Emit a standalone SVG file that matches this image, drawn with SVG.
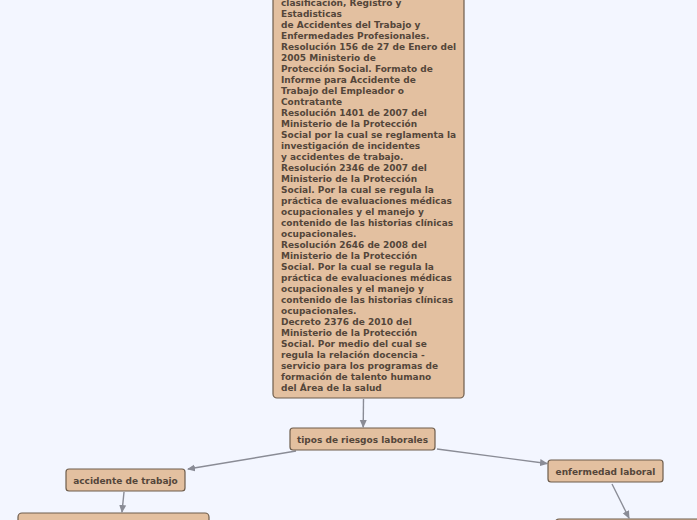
<svg xmlns="http://www.w3.org/2000/svg" width="697" height="520" viewBox="0 0 697 520">
<defs>
<marker id="arr" markerWidth="8" markerHeight="8" refX="7" refY="4" orient="auto" markerUnits="userSpaceOnUse">
<path d="M0,0.5 L8,4 L0,7.5 Z" fill="#8a8c96"/>
</marker>
</defs>
<style>
.node rect{fill:#e3c0a0;stroke:#6e5d4c;stroke-width:1.2}
.t{font-family:"DejaVu Sans",Verdana,sans-serif;font-weight:bold;font-size:9px;fill:#54463a}
.c{text-anchor:middle}
.conn line{stroke:#8a8c96;stroke-width:1.4;marker-end:url(#arr)}
</style>
<rect width="697" height="520" fill="#f3f6ff"/>
<g id="connectors" class="conn">
<line x1="363.5" y1="399" x2="363.2" y2="427"/>
<line x1="296" y1="451" x2="188" y2="469"/>
<line x1="437" y1="449" x2="547" y2="463.5"/>
<line x1="124" y1="492" x2="122" y2="512"/>
<line x1="612" y1="484" x2="629" y2="518"/>
</g>
<g id="n-leyes" class="node">
<rect x="273" y="-20" width="191" height="418" rx="4"/>
<text class="t" x="281" y="6">clasificación, Registro y</text>
<text class="t" x="281" y="17">Estadisticas</text>
<text class="t" x="281" y="28">de Accidentes del Trabajo y</text>
<text class="t" x="281" y="39">Enfermedades Profesionales.</text>
<text class="t" x="281" y="50">Resolución 156 de 27 de Enero del</text>
<text class="t" x="281" y="61">2005 Ministerio de</text>
<text class="t" x="281" y="72">Protección Social. Formato de</text>
<text class="t" x="281" y="83">Informe para Accidente de</text>
<text class="t" x="281" y="94">Trabajo del Empleador o</text>
<text class="t" x="281" y="105">Contratante</text>
<text class="t" x="281" y="116">Resolución 1401 de 2007 del</text>
<text class="t" x="281" y="127">Ministerio de la Protección</text>
<text class="t" x="281" y="138">Social por la cual se reglamenta la</text>
<text class="t" x="281" y="149">investigación de incidentes</text>
<text class="t" x="281" y="160">y accidentes de trabajo.</text>
<text class="t" x="281" y="171">Resolución 2346 de 2007 del</text>
<text class="t" x="281" y="182">Ministerio de la Protección</text>
<text class="t" x="281" y="193">Social. Por la cual se regula la</text>
<text class="t" x="281" y="204">práctica de evaluaciones médicas</text>
<text class="t" x="281" y="215">ocupacionales y el manejo y</text>
<text class="t" x="281" y="226">contenido de las historias clínicas</text>
<text class="t" x="281" y="237">ocupacionales.</text>
<text class="t" x="281" y="248">Resolución 2646 de 2008 del</text>
<text class="t" x="281" y="259">Ministerio de la Protección</text>
<text class="t" x="281" y="270">Social. Por la cual se regula la</text>
<text class="t" x="281" y="281">práctica de evaluaciones médicas</text>
<text class="t" x="281" y="292">ocupacionales y el manejo y</text>
<text class="t" x="281" y="303">contenido de las historias clínicas</text>
<text class="t" x="281" y="314">ocupacionales.</text>
<text class="t" x="281" y="325">Decreto 2376 de 2010 del</text>
<text class="t" x="281" y="336">Ministerio de la Protección</text>
<text class="t" x="281" y="347">Social. Por medio del cual se</text>
<text class="t" x="281" y="358">regula la relación docencia -</text>
<text class="t" x="281" y="369">servicio para los programas de</text>
<text class="t" x="281" y="380">formación de talento humano</text>
<text class="t" x="281" y="391">del Área de la salud</text>
</g>
<g id="n-tipos" class="node">
<rect x="290" y="428" width="145" height="22" rx="3"/>
<text class="t c" x="362.5" y="443">tipos de riesgos laborales</text>
</g>
<g id="n-accidente" class="node">
<rect x="66" y="469" width="119" height="22" rx="3"/>
<text class="t c" x="125.5" y="484">accidente de trabajo</text>
</g>
<g id="n-enfermedad" class="node">
<rect x="548" y="460" width="115" height="22" rx="3"/>
<text class="t c" x="605.5" y="475">enfermedad laboral</text>
</g>
<g id="n-acc-child" class="node">
<rect x="18" y="513" width="191" height="30" rx="4"/>
</g>
<g id="n-enf-child" class="node">
<rect x="555" y="519" width="160" height="30" rx="4"/>
</g>
</svg>
